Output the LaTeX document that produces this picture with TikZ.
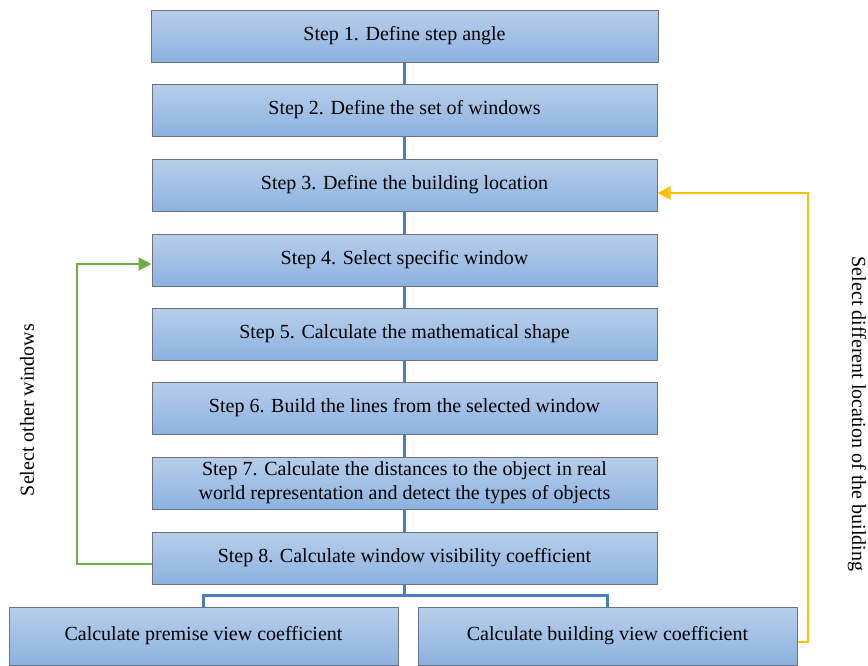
\documentclass[tikz,border=0pt]{standalone}
\usepackage{fontspec}
\setmainfont{Liberation Serif}
\usepackage{xcolor}
\usepackage{tikz}
\usetikzlibrary{arrows.meta}

\definecolor{boxtop}{RGB}{184,206,234}
\definecolor{boxbot}{RGB}{140,178,224}
\definecolor{boxline}{RGB}{105,115,130}
\definecolor{linkblue}{RGB}{74,126,187}
\definecolor{loopgreen}{RGB}{112,173,71}
\definecolor{loopyellow}{RGB}{255,192,0}

\tikzset{
  stepbox/.style={draw=boxline, line width=1pt, top color=boxtop, bottom color=boxbot,
    minimum width=505pt, minimum height=52pt, inner sep=0pt, align=center,
    font=\fontsize{20}{24}\selectfont},
  link/.style={linkblue, line width=2.5pt},
  loopback/.style={line width=2pt, -{Triangle[length=13pt,width=13pt]}},
  sidelabel/.style={font=\fontsize{20}{24}\selectfont}
}

\begin{document}
\begin{tikzpicture}[x=1pt,y=-1pt]
% Frame
\useasboundingbox (0,0) rectangle (868,665);

% Centre line of the steps
\def\midx{404.5}

% Steps
\node[stepbox, minimum width=507pt] (s1) at (\midx,36) {Step 1. Define step angle};
\node[stepbox] (s2) at (\midx,110) {Step 2. Define the set of windows};
\node[stepbox] (s3) at (\midx,185) {Step 3. Define the building location};
\node[stepbox] (s4) at (\midx,260) {Step 4. Select specific window};
\node[stepbox] (s5) at (\midx,334) {Step 5. Calculate the mathematical shape};
\node[stepbox] (s6) at (\midx,408) {Step 6. Build the lines from the selected window};
\node[stepbox] (s7) at (\midx,483) {Step 7. Calculate the distances to the object in real\\world representation and detect the types of objects};
\node[stepbox] (s8) at (\midx,558) {Step 8. Calculate window visibility coefficient};

% Results
\node[stepbox, minimum width=389pt, minimum height=58pt] (premise) at (203.5,636) {Calculate premise view coefficient};
\node[stepbox, minimum width=379pt, minimum height=58pt] (building) at (607.5,636) {Calculate building view coefficient};

% Links between steps
\foreach \a/\b in {s1/s2,s2/s3,s3/s4,s4/s5,s5/s6,s6/s7,s7/s8}
  \draw[link] (\a) -- (\b);
\draw[link] (s8.south) -- ++(0,11) -| (premise.north);
\draw[link] (s8.south) -- ++(0,11) -| (building.north);

% Loop over windows
\coordinate (gstart) at ([yshift=-6pt]s8.west);
\coordinate (gend) at ([yshift=-4pt]s4.west);
\draw[loopback, loopgreen] (gstart) -- (77,564) |- (gend);
\node[sidelabel, rotate=90] (lother) at (27,410) {Select other windows};

% Loop over locations
\coordinate (ystart) at ([yshift=-6pt]building.east);
\coordinate (yend) at ([yshift=-8pt]s3.east);
\draw[loopback, loopyellow] (ystart) -- (808,642) |- (yend);
\node[sidelabel, rotate=-90] (llocation) at (857,414) {Select different location of the building};

\end{tikzpicture}
\end{document}
